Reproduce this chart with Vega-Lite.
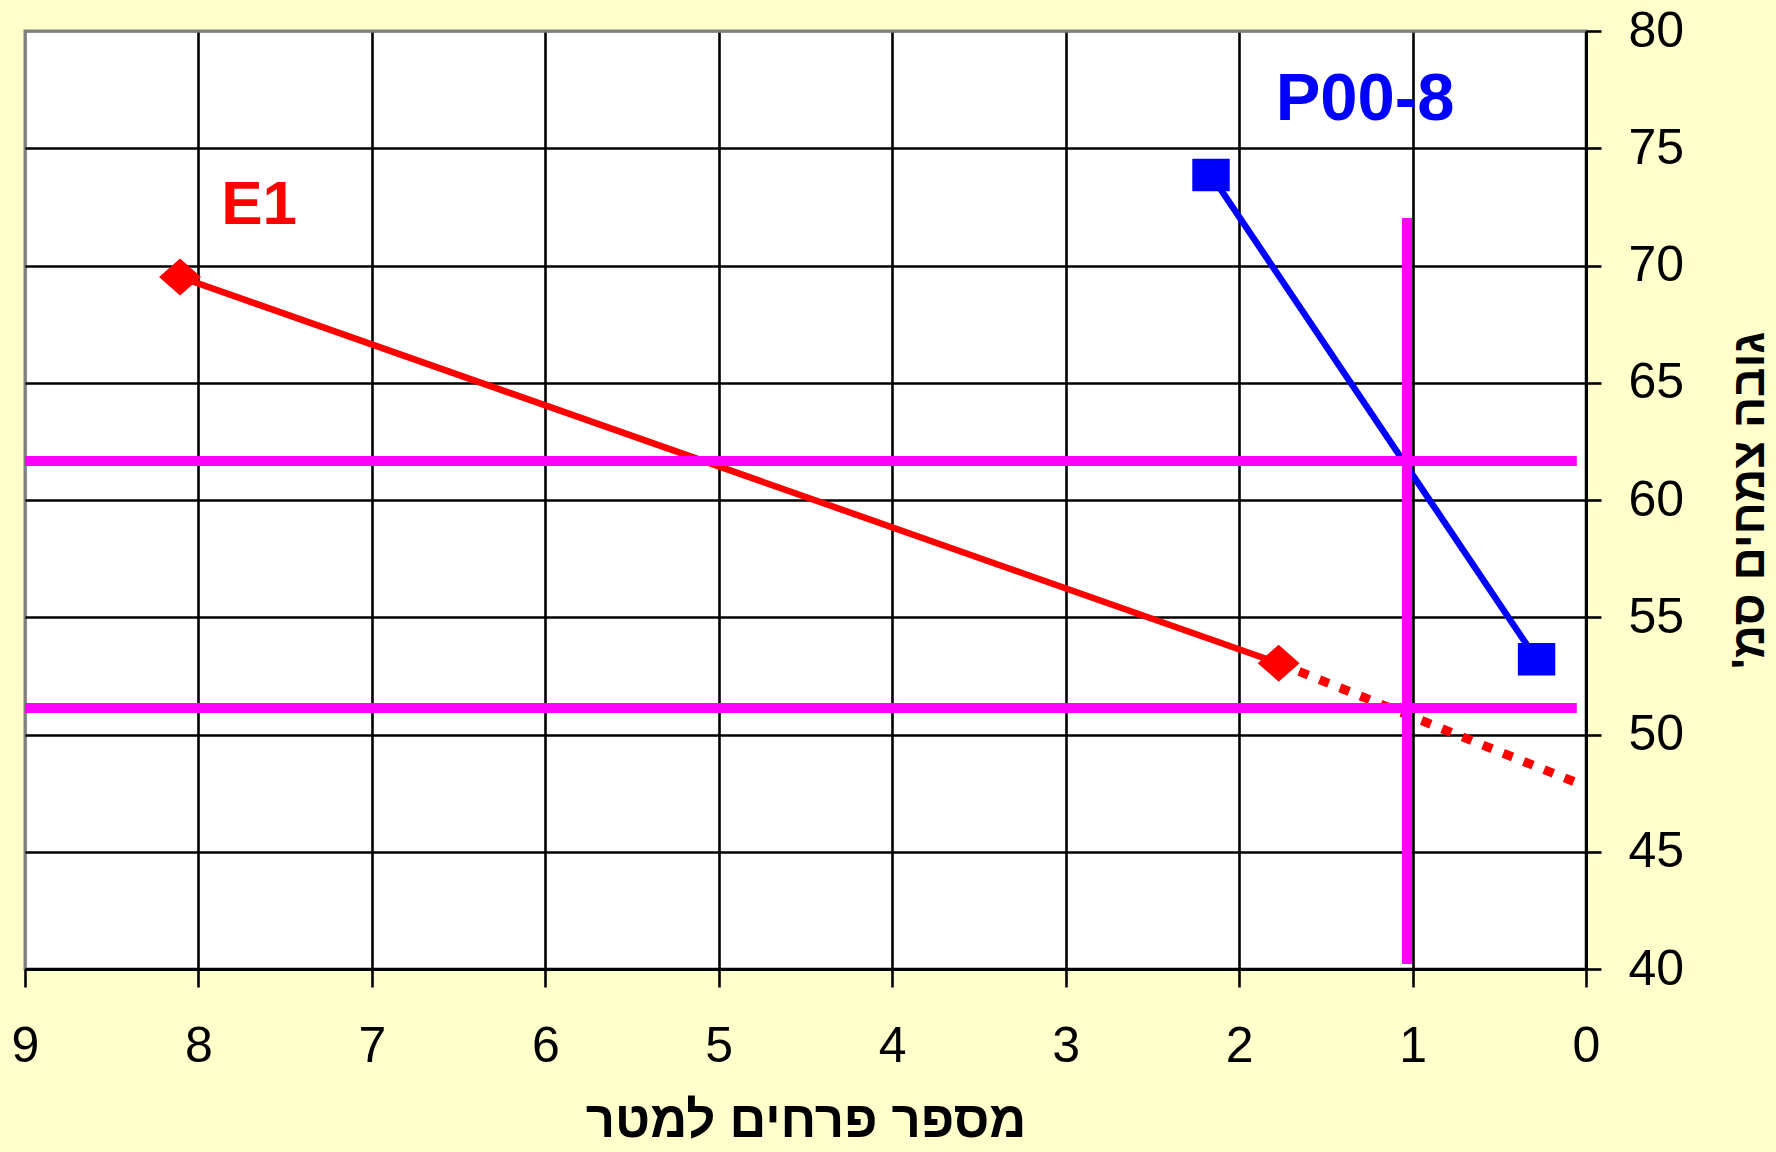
{
  "$schema": "https://vega.github.io/schema/vega-lite/v6.json",
  "width": 1561,
  "height": 938,
  "autosize": {"type": "none"},
  "padding": {"left": 25, "top": 31, "right": 190, "bottom": 183},
  "background": "#FFFFCC",
  "config": {
    "view": {"fill": "#FFFFFF", "stroke": "#808080", "strokeWidth": 3},
    "font": "Liberation Sans"
  },
  "datasets": {
    "points": [
      {"series": "E1", "flowers": 8.106, "height": 69.51},
      {"series": "E1", "flowers": 1.772, "height": 53.04},
      {"series": "P00-8", "flowers": 2.162, "height": 73.86},
      {"series": "P00-8", "flowers": 0.285, "height": 53.21}
    ],
    "trend": [
      {"series": "E1", "flowers": 1.772, "height": 53.04},
      {"series": "E1", "flowers": 0.069, "height": 47.99}
    ],
    "guides": [
      {"flowers": 9, "flowers2": 0.053, "height": 61.66, "height2": 61.66},
      {"flowers": 9, "flowers2": 0.053, "height": 51.13, "height2": 51.13},
      {"flowers": 1.032, "flowers2": 1.032, "height": 72.03, "height2": 40.21}
    ],
    "labels": [
      {"series": "E1", "flowers": 7.65, "height": 72.56},
      {"series": "P00-8", "flowers": 1.274, "height": 77.05}
    ]
  },
  "encoding": {
    "x": {
      "field": "flowers",
      "type": "quantitative",
      "scale": {"domain": [0, 9], "reverse": true, "nice": false, "zero": false},
      "axis": {
        "orient": "bottom",
        "values": [0, 1, 2, 3, 4, 5, 6, 7, 8, 9],
        "format": "d",
        "title": "מספר פרחים למטר",
        "grid": true,
        "gridColor": {"condition": {"test": "datum.value == 9", "value": "#808080"}, "value": "#000000"},
        "gridWidth": 2.6,
        "gridOpacity": 1,
        "domainColor": "#000000",
        "domainWidth": 3,
        "tickColor": "#000000",
        "tickWidth": 2.6,
        "tickSize": 18,
        "labelFont": "Liberation Sans",
        "labelFontSize": 50,
        "labelColor": "#000000",
        "labelPadding": 34,
        "labelFlush": false,
        "labelOverlap": false,
        "titleFont": "Liberation Sans",
        "titleFontSize": 51,
        "titleFontWeight": "bold",
        "titleColor": "#000000",
        "titlePadding": 25
      }
    },
    "y": {
      "field": "height",
      "type": "quantitative",
      "scale": {"domain": [40, 80], "nice": false, "zero": false},
      "axis": {
        "orient": "right",
        "values": [40, 45, 50, 55, 60, 65, 70, 75, 80],
        "title": "גובה צמחים סמ'\u200f",
        "titleAngle": 270,
        "titleBaseline": "top",
        "grid": true,
        "gridColor": {"condition": {"test": "datum.value == 80", "value": "#808080"}, "value": "#000000"},
        "gridWidth": 2.6,
        "gridOpacity": 1,
        "domainColor": "#000000",
        "domainWidth": 3,
        "tickColor": "#000000",
        "tickWidth": 2.6,
        "tickSize": 15,
        "labelFont": "Liberation Sans",
        "labelFontSize": 50,
        "labelColor": "#000000",
        "labelPadding": 27,
        "labelOverlap": false,
        "labelFlush": false,
        "titleFont": "Liberation Sans",
        "titleFontSize": 46,
        "titleFontWeight": "bold",
        "titleColor": "#000000",
        "titlePadding": 44
      }
    }
  },
  "layer": [
    {
      "data": {"name": "points"},
      "transform": [{"filter": "datum.series === 'E1'"}],
      "mark": {"type": "line", "color": "#FF0000", "strokeWidth": 6.5}
    },
    {
      "data": {"name": "trend"},
      "mark": {"type": "line", "color": "#FF0000", "strokeWidth": 9, "strokeDash": [10, 12], "strokeCap": "butt"}
    },
    {
      "data": {"name": "points"},
      "transform": [{"filter": "datum.series === 'P00-8'"}],
      "mark": {"type": "line", "color": "#0000FF", "strokeWidth": 6.5}
    },
    {
      "data": {"name": "points"},
      "transform": [{"filter": "datum.series === 'E1'"}],
      "mark": {"type": "point", "shape": "M-1,0L0,-0.88L1,0L0,0.88Z", "size": 1760, "filled": true, "opacity": 1, "color": "#FF0000", "strokeWidth": 0}
    },
    {
      "data": {"name": "points"},
      "transform": [{"filter": "datum.series === 'P00-8'"}],
      "mark": {"type": "point", "shape": "M-1,-0.865L1,-0.865L1,0.865L-1,0.865Z", "size": 1400, "filled": true, "opacity": 1, "color": "#0000FF", "strokeWidth": 0}
    },
    {
      "data": {"name": "guides"},
      "mark": {"type": "rule", "color": "#FF00FF", "strokeWidth": 10},
      "encoding": {
        "x2": {"field": "flowers2"},
        "y2": {"field": "height2"}
      }
    },
    {
      "data": {"name": "labels"},
      "transform": [{"filter": "datum.series === 'E1'"}],
      "mark": {"type": "text", "font": "Liberation Sans", "fontSize": 62, "fontWeight": "bold", "color": "#FF0000", "align": "center", "baseline": "middle"},
      "encoding": {"text": {"field": "series", "type": "nominal"}}
    },
    {
      "data": {"name": "labels"},
      "transform": [{"filter": "datum.series === 'P00-8'"}],
      "mark": {"type": "text", "font": "Liberation Sans", "fontSize": 67, "fontWeight": "bold", "color": "#0000FF", "align": "center", "baseline": "middle"},
      "encoding": {"text": {"field": "series", "type": "nominal"}}
    }
  ]
}
